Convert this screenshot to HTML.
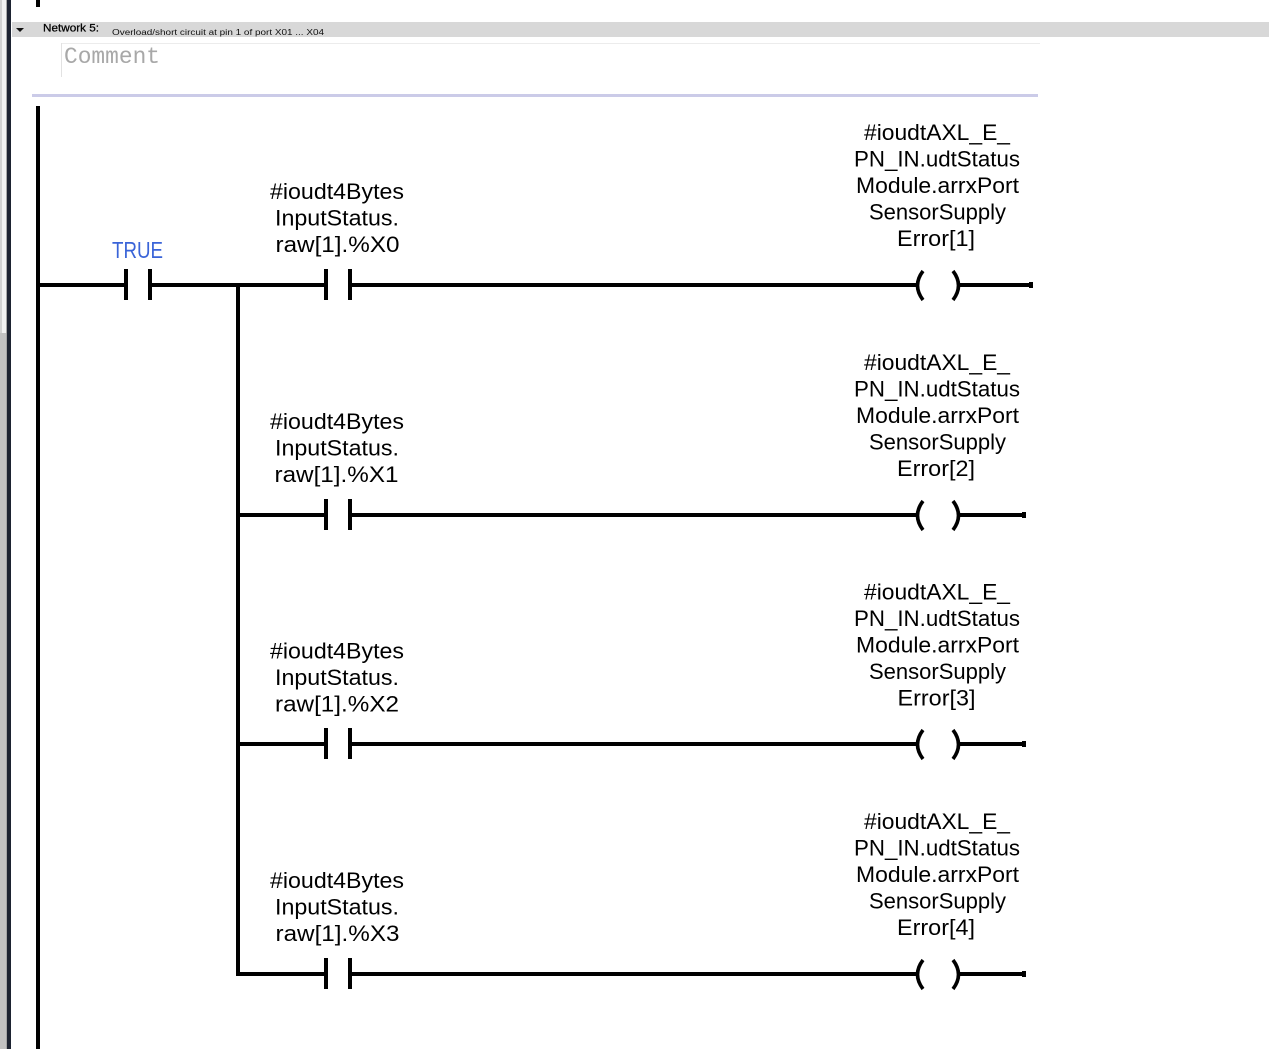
<!DOCTYPE html>
<html><head><meta charset="utf-8">
<style>
html,body{margin:0;padding:0;background:#fff;}
body{width:1269px;height:1049px;overflow:hidden;}
svg{display:block;}
text{font-family:"Liberation Sans",Arial,sans-serif;}
</style></head>
<body>
<svg width="1269" height="1049" viewBox="0 0 1269 1049" xmlns="http://www.w3.org/2000/svg">
<rect x="0" y="0" width="1269" height="1049" fill="#fff"/>
<!-- left window strip -->
<rect x="0" y="0" width="2" height="333" fill="#d2d2d2"/>
<rect x="2" y="0" width="4" height="333" fill="#f2f2f2"/>
<rect x="6" y="0" width="1" height="333" fill="#a8a8a8"/>
<rect x="0" y="333" width="7" height="716" fill="#c2c2c2"/>
<rect x="6" y="333" width="1" height="716" fill="#a4a4a4"/>
<rect x="7" y="0" width="4" height="1049" fill="#1d2331"/>

<!-- header band -->
<rect x="12" y="22" width="1257" height="15" fill="#d8d8d8"/>
<polygon points="16,28 24,28 20,32" fill="#111"/>
<text x="43" y="31.5" font-size="11" fill="#000" stroke="#000" stroke-width="0.25" textLength="56" lengthAdjust="spacingAndGlyphs">Network 5:</text>
<text x="112" y="35" font-size="8" fill="#111" textLength="212" lengthAdjust="spacingAndGlyphs">Overload/short circuit at pin 1 of port X01 ... X04</text>

<!-- comment box -->
<rect x="61" y="43" width="979" height="1" fill="#ececec"/>
<rect x="61" y="43" width="1" height="34" fill="#e2e2e2"/>
<text x="64" y="63" font-size="23" fill="#a8a8a8" style="font-family:'Liberation Mono',monospace" textLength="96" lengthAdjust="spacingAndGlyphs">Comment</text>

<!-- lavender separator -->
<rect x="32" y="94" width="1006" height="3" fill="#cbcbe8"/>

<!-- left power rail -->
<rect x="36" y="0" width="4" height="7" fill="#000"/>
<rect x="36" y="106" width="4" height="943" fill="#000"/>

<!-- rung 1 -->
<rect x="40" y="283" width="84" height="4" fill="#000"/>
<rect x="124" y="269" width="4" height="31" fill="#000"/>
<rect x="148" y="269" width="4" height="31" fill="#000"/>
<rect x="152" y="283" width="172" height="4" fill="#000"/>
<text x="137.5" y="258" font-size="23" fill="#3a64d8" text-anchor="middle" textLength="51" lengthAdjust="spacingAndGlyphs">TRUE</text>

<!-- branch vertical -->
<rect x="236" y="283" width="4" height="693" fill="#000"/>

<g fill="#000">
  <!-- rung 1 y=283 -->
  <rect x="324" y="269" width="4" height="31"/>
  <rect x="348" y="269" width="4" height="31"/>
  <rect x="352" y="283" width="567" height="4"/>
  <rect x="957" y="283" width="76" height="4"/>
  <rect x="1029" y="282" width="4" height="6"/>

  <!-- rung 2 y=513 -->
  <rect x="240" y="513" width="84" height="4"/>
  <rect x="324" y="499" width="4" height="31"/>
  <rect x="348" y="499" width="4" height="31"/>
  <rect x="352" y="513" width="567" height="4"/>
  <rect x="957" y="513" width="69" height="4"/>
  <rect x="1022" y="512" width="4" height="6"/>

  <!-- rung 3 y=742 -->
  <rect x="240" y="742" width="84" height="4"/>
  <rect x="324" y="728" width="4" height="31"/>
  <rect x="348" y="728" width="4" height="31"/>
  <rect x="352" y="742" width="567" height="4"/>
  <rect x="957" y="742" width="69" height="4"/>
  <rect x="1022" y="741" width="4" height="6"/>

  <!-- rung 4 y=972 -->
  <rect x="236" y="972" width="88" height="4"/>
  <rect x="324" y="958" width="4" height="31"/>
  <rect x="348" y="958" width="4" height="31"/>
  <rect x="352" y="972" width="567" height="4"/>
  <rect x="957" y="972" width="69" height="4"/>
  <rect x="1022" y="971" width="4" height="6"/>
</g>

<g fill="none" stroke="#000" stroke-width="3.6">
  <path d="M923 271 Q912 285.5 923 300"/>
  <path d="M953 271 Q964 285.5 953 300"/>
  <path d="M923 501 Q912 515.5 923 530"/>
  <path d="M953 501 Q964 515.5 953 530"/>
  <path d="M923 730 Q912 744.5 923 759"/>
  <path d="M953 730 Q964 744.5 953 759"/>
  <path d="M923 960 Q912 974.5 923 989"/>
  <path d="M953 960 Q964 974.5 953 989"/>
</g>

<!-- contact labels -->
<g font-size="22.5" fill="#000" text-anchor="middle">
  <text x="337" y="199" textLength="134" lengthAdjust="spacingAndGlyphs">#ioudt4Bytes</text>
  <text x="337" y="225.5" textLength="124" lengthAdjust="spacingAndGlyphs">InputStatus.</text>
  <text x="337.5" y="252" textLength="124" lengthAdjust="spacingAndGlyphs">raw[1].%X0</text>

  <text x="337" y="429" textLength="134" lengthAdjust="spacingAndGlyphs">#ioudt4Bytes</text>
  <text x="337" y="455.5" textLength="124" lengthAdjust="spacingAndGlyphs">InputStatus.</text>
  <text x="336.5" y="482" textLength="124" lengthAdjust="spacingAndGlyphs">raw[1].%X1</text>

  <text x="337" y="658.5" textLength="134" lengthAdjust="spacingAndGlyphs">#ioudt4Bytes</text>
  <text x="337" y="685" textLength="124" lengthAdjust="spacingAndGlyphs">InputStatus.</text>
  <text x="337" y="711.5" textLength="124" lengthAdjust="spacingAndGlyphs">raw[1].%X2</text>

  <text x="337" y="888" textLength="134" lengthAdjust="spacingAndGlyphs">#ioudt4Bytes</text>
  <text x="337" y="914.5" textLength="124" lengthAdjust="spacingAndGlyphs">InputStatus.</text>
  <text x="337.5" y="941" textLength="124" lengthAdjust="spacingAndGlyphs">raw[1].%X3</text>
</g>

<!-- coil labels -->
<g font-size="22.5" fill="#000" text-anchor="middle">
  <text x="937" y="140" textLength="146" lengthAdjust="spacingAndGlyphs">#ioudtAXL_E_</text>
  <text x="937" y="166.5" textLength="166" lengthAdjust="spacingAndGlyphs">PN_IN.udtStatus</text>
  <text x="937.5" y="193" textLength="163" lengthAdjust="spacingAndGlyphs">Module.arrxPort</text>
  <text x="937.5" y="219.5" textLength="137" lengthAdjust="spacingAndGlyphs">SensorSupply</text>
  <text x="936" y="246" textLength="78" lengthAdjust="spacingAndGlyphs">Error[1]</text>

  <text x="937" y="370" textLength="146" lengthAdjust="spacingAndGlyphs">#ioudtAXL_E_</text>
  <text x="937" y="396.5" textLength="166" lengthAdjust="spacingAndGlyphs">PN_IN.udtStatus</text>
  <text x="937.5" y="423" textLength="163" lengthAdjust="spacingAndGlyphs">Module.arrxPort</text>
  <text x="937.5" y="449.5" textLength="137" lengthAdjust="spacingAndGlyphs">SensorSupply</text>
  <text x="936" y="476" textLength="78" lengthAdjust="spacingAndGlyphs">Error[2]</text>

  <text x="937" y="599.5" textLength="146" lengthAdjust="spacingAndGlyphs">#ioudtAXL_E_</text>
  <text x="937" y="626" textLength="166" lengthAdjust="spacingAndGlyphs">PN_IN.udtStatus</text>
  <text x="937.5" y="652.5" textLength="163" lengthAdjust="spacingAndGlyphs">Module.arrxPort</text>
  <text x="937.5" y="679" textLength="137" lengthAdjust="spacingAndGlyphs">SensorSupply</text>
  <text x="936.5" y="705.5" textLength="78" lengthAdjust="spacingAndGlyphs">Error[3]</text>

  <text x="937" y="829" textLength="146" lengthAdjust="spacingAndGlyphs">#ioudtAXL_E_</text>
  <text x="937" y="855.5" textLength="166" lengthAdjust="spacingAndGlyphs">PN_IN.udtStatus</text>
  <text x="937.5" y="882" textLength="163" lengthAdjust="spacingAndGlyphs">Module.arrxPort</text>
  <text x="937.5" y="908.5" textLength="137" lengthAdjust="spacingAndGlyphs">SensorSupply</text>
  <text x="936" y="935" textLength="78" lengthAdjust="spacingAndGlyphs">Error[4]</text>
</g>
</svg>
</body></html>
